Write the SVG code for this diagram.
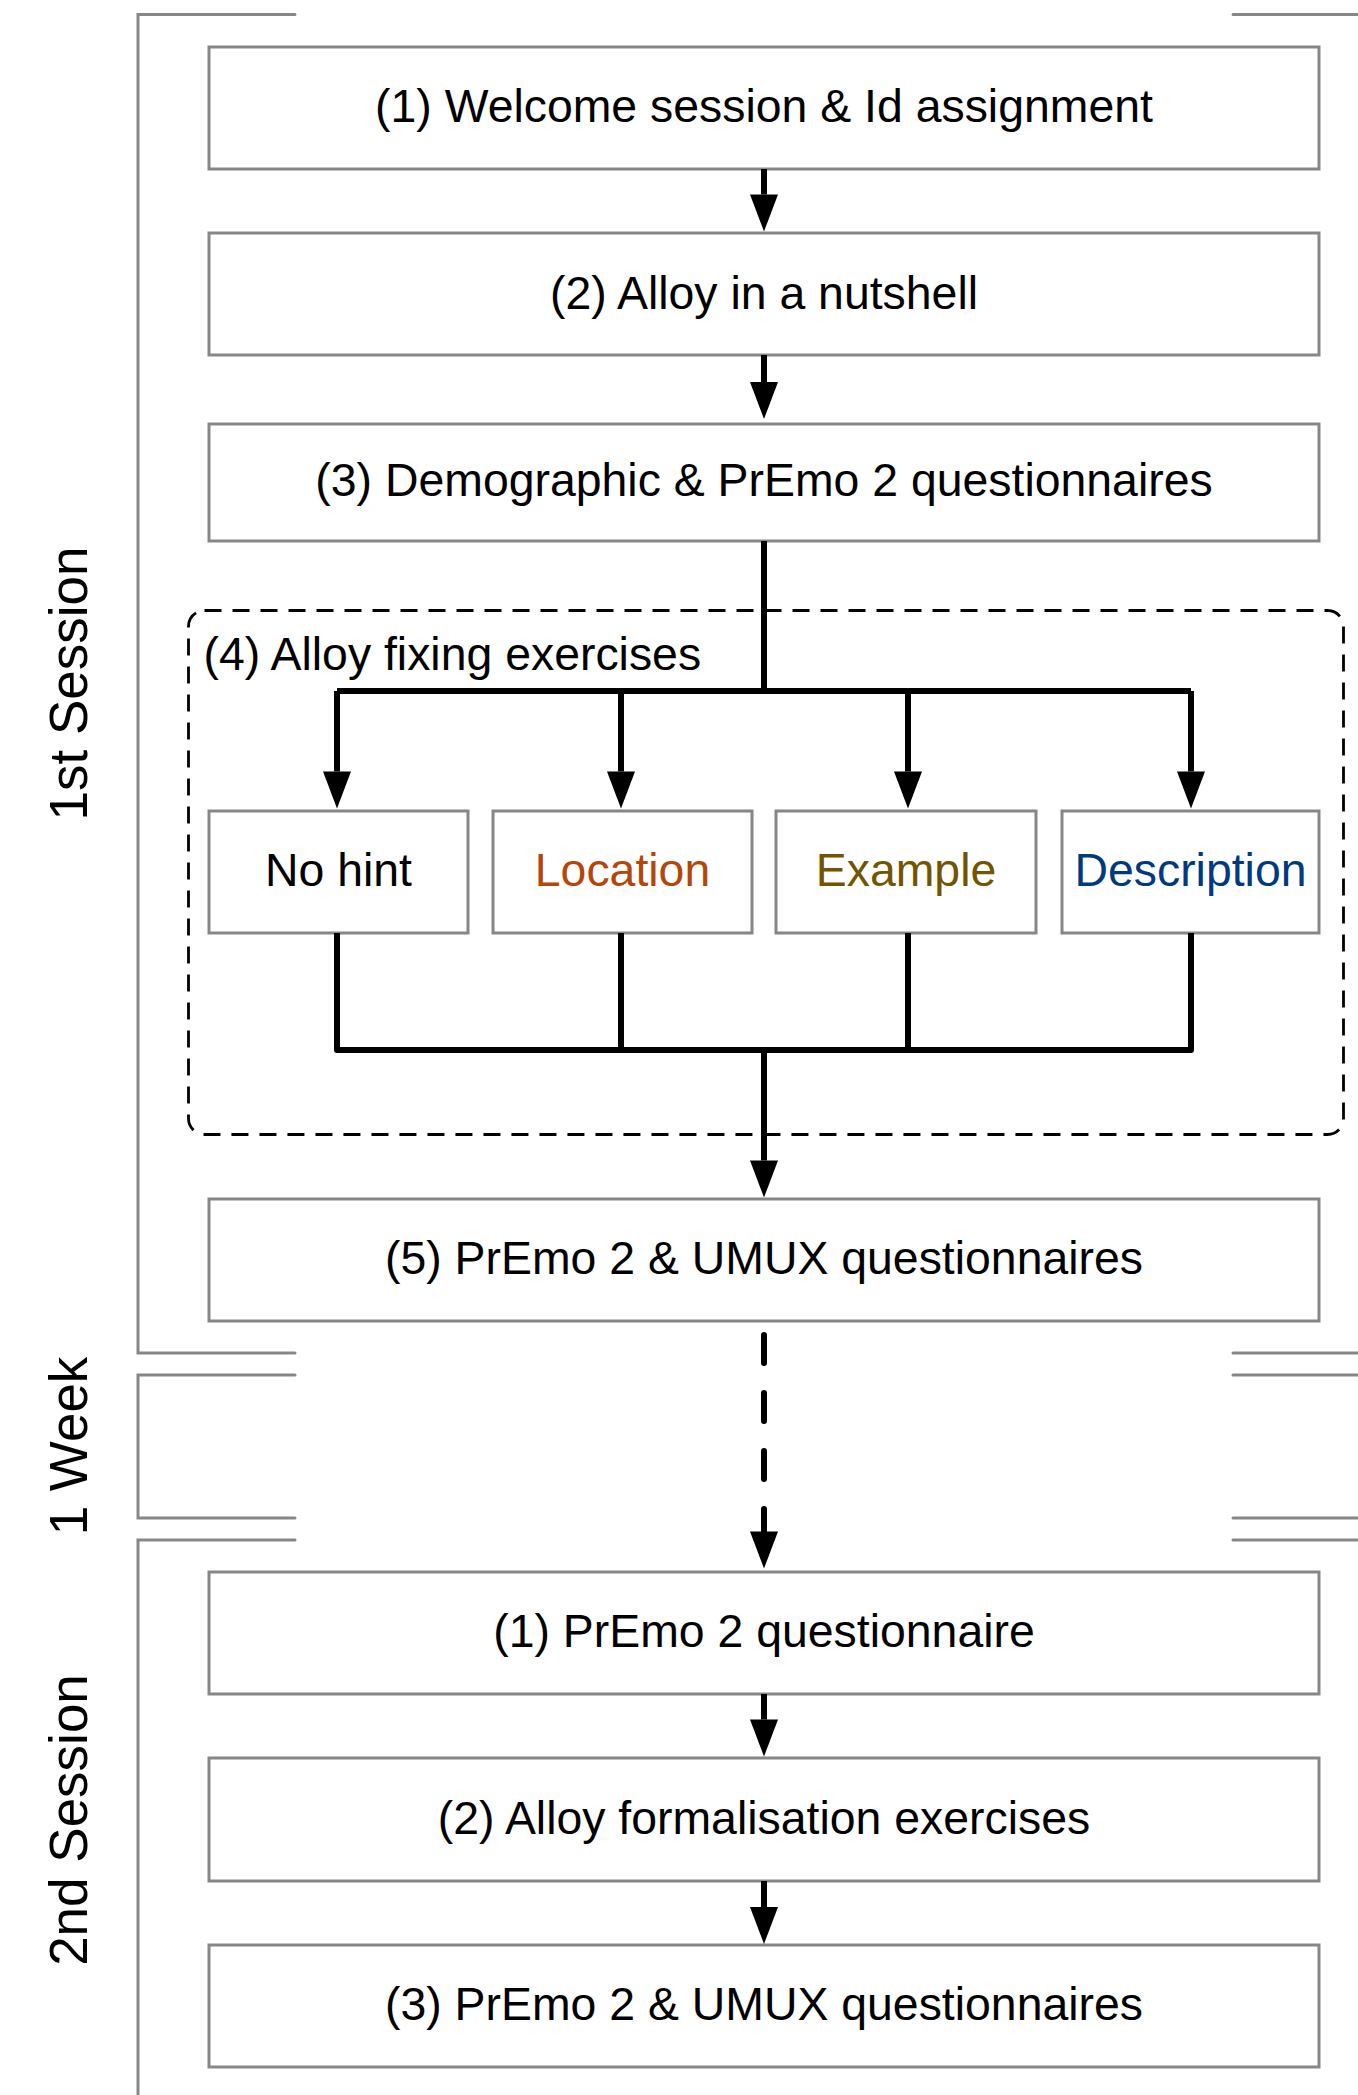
<svg xmlns="http://www.w3.org/2000/svg" width="1358" height="2095" viewBox="0 0 1358 2095">
<style>
.box{fill:#fff;stroke:#878787;stroke-width:3}
.br{fill:none;stroke:#878787;stroke-width:3;stroke-linecap:round}
.t{font-family:"Liberation Sans",Arial,Helvetica,sans-serif;font-size:46.4px;fill:#000;text-anchor:middle}
.lbl{font-family:"Liberation Sans",Arial,Helvetica,sans-serif;font-size:53px;fill:#000;text-anchor:middle}
.c{fill:none;stroke:#000;stroke-width:6;stroke-linejoin:round}
.grp{fill:none;stroke:#000;stroke-width:2.8;stroke-dasharray:17 11}
</style>
<defs>
<marker id="ah" markerUnits="userSpaceOnUse" markerWidth="40" markerHeight="30" refX="0" refY="14" orient="auto" overflow="visible">
<path d="M0,0 L37,14 L0,28 Z" fill="#000"/>
</marker>
</defs>
<rect width="1358" height="2095" fill="#fff"/>

<g id="brackets">
<path class="br" d="M295,14.5 H138 V1353 H295"/>
<path class="br" d="M1233,14.5 H1360 M1233,1353 H1360"/>
<path class="br" d="M295,1375 H138 V1518 H295"/>
<path class="br" d="M1233,1375 H1360 M1233,1518 H1360"/>
<path class="br" d="M295,1540 H138 V2100"/>
<path class="br" d="M1233,1540 H1360"/>
</g>
<g id="labels">
<text class="lbl" transform="translate(87,683.5) rotate(-90)">1st Session</text>
<text class="lbl" transform="translate(87,1446) rotate(-90)">1 Week</text>
<text class="lbl" transform="translate(87,1820) rotate(-90)">2nd Session</text>
</g>

<g id="group4">
<rect class="grp" x="188.5" y="610.5" width="1155" height="524" rx="16"/>
<text class="t" x="203.5" y="670" style="text-anchor:start">(4) Alloy fixing exercises</text>
</g>

<g id="s1n1"><rect class="box" x="209" y="47" width="1110" height="122"/><text class="t" x="764" y="121.5">(1) Welcome session &amp; Id assignment</text></g>
<g id="s1n2"><rect class="box" x="209" y="233" width="1110" height="122"/><text class="t" x="764" y="308.5">(2) Alloy in a nutshell</text></g>
<g id="s1n3"><rect class="box" x="209" y="424" width="1110" height="117"/><text class="t" x="764" y="496">(3) Demographic &amp; PrEmo 2 questionnaires</text></g>
<g id="nohint"><rect class="box" x="209" y="811" width="259" height="122"/><text class="t" x="338.5" y="886">No hint</text></g>
<g id="location"><rect class="box" x="493" y="811" width="259" height="122"/><text class="t" x="622.5" y="886" style="fill:#B5460A">Location</text></g>
<g id="example"><rect class="box" x="776" y="811" width="260" height="122"/><text class="t" x="906" y="886" style="fill:#725500">Example</text></g>
<g id="description"><rect class="box" x="1062" y="811" width="257" height="122"/><text class="t" x="1190.5" y="886" style="fill:#00397F">Description</text></g>
<g id="s1n5"><rect class="box" x="209" y="1199" width="1110" height="122"/><text class="t" x="764" y="1274">(5) PrEmo 2 &amp; UMUX questionnaires</text></g>
<g id="s2n1"><rect class="box" x="209" y="1572" width="1110" height="122"/><text class="t" x="764" y="1647">(1) PrEmo 2 questionnaire</text></g>
<g id="s2n2"><rect class="box" x="209" y="1758" width="1110" height="123"/><text class="t" x="764" y="1833.5">(2) Alloy formalisation exercises</text></g>
<g id="s2n3"><rect class="box" x="209" y="1945" width="1110" height="122"/><text class="t" x="764" y="2020">(3) PrEmo 2 &amp; UMUX questionnaires</text></g>

<g id="connectors">
<path class="c" d="M764,169 V194.5" marker-end="url(#ah)"/>
<path class="c" d="M764,355 V382" marker-end="url(#ah)"/>
<path class="c" d="M764,541 V691"/>
<path class="c" d="M337,691 H1191"/>
<path class="c" d="M337,691 V771.5" marker-end="url(#ah)"/>
<path class="c" d="M621,691 V771.5" marker-end="url(#ah)"/>
<path class="c" d="M908,691 V771.5" marker-end="url(#ah)"/>
<path class="c" d="M1191,691 V771.5" marker-end="url(#ah)"/>
<path class="c" d="M337,933 V1050 H1191 V933"/>
<path class="c" d="M621,933 V1050"/>
<path class="c" d="M908,933 V1050"/>
<path class="c" d="M764,1050 V1160.5" marker-end="url(#ah)"/>
<path class="c" d="M764,1335 V1531.5" style="stroke-dasharray:28 30;stroke-linecap:round" marker-end="url(#ah)"/>
<path class="c" d="M764,1694 V1719.5" marker-end="url(#ah)"/>
<path class="c" d="M764,1881 V1907" marker-end="url(#ah)"/>
</g>
</svg>
